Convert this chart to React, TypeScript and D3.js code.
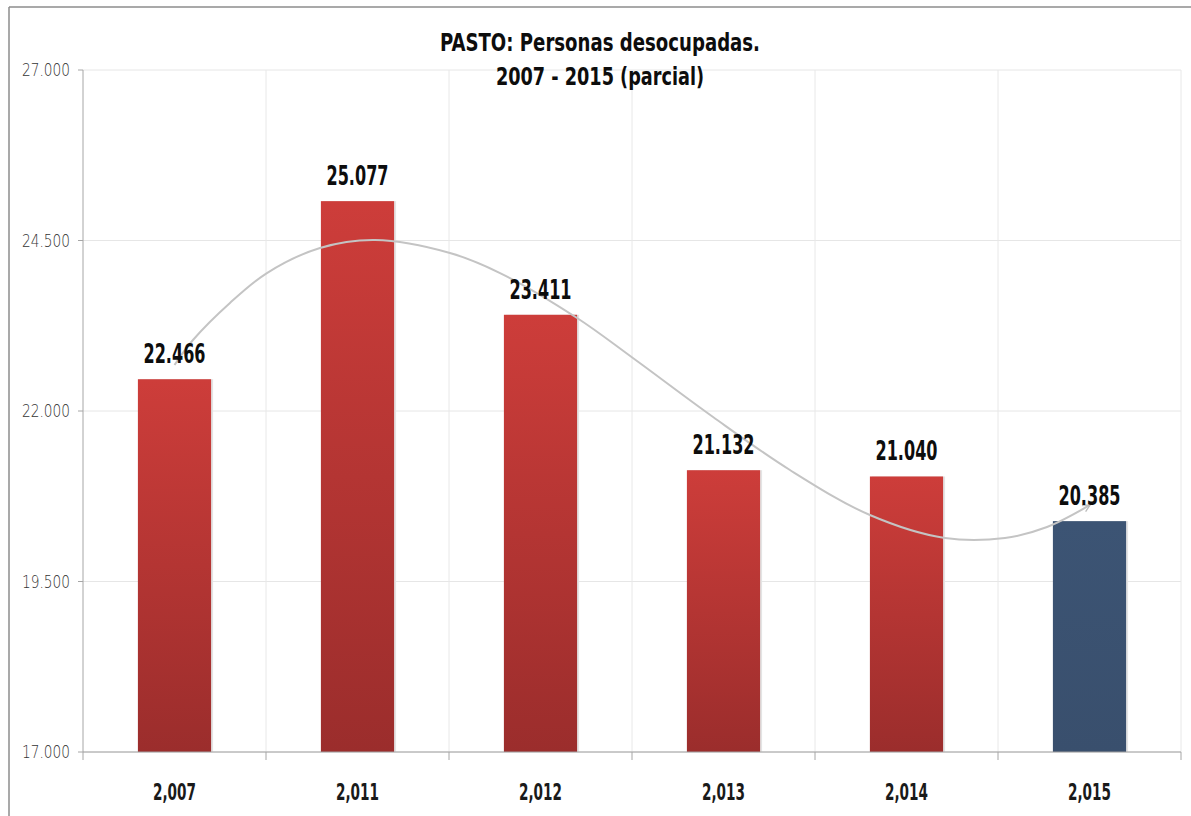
import React from "react";
import * as d3 from "d3";

const categories = ["2,007", "2,011", "2,012", "2,013", "2,014", "2,015"];
const values = [22466, 25077, 23411, 21132, 21040, 20385];
const barKinds = ["red", "red", "red", "red", "red", "blue"];
const yTicks = [17000, 19500, 22000, 24500, 27000];
const titleLines = ["PASTO: Personas desocupadas.", "2007 - 2015 (parcial)"];
// hand-drawn trend arrow, in (category position, value) units
const trendX = [0.0, 0.101, 0.303, 0.505, 0.795, 1.096, 1.505, 1.779, 2.2, 2.505, 2.943, 3.363, 3.8, 4.21, 4.538, 4.768, 5.003];
const trendY = [22675, 23041, 23584, 24023, 24390, 24507, 24317, 24023, 23364, 22777, 21912, 21135, 20475, 20138, 20138, 20299, 20622];

const W = 1191;
const H = 816;
const M = { left: 83, right: 1181, top: 70, bottom: 752 };

const locale = d3.formatLocale({ decimal: ",", thousands: ".", grouping: [3], currency: ["$", ""] });
const fmt = locale.format(",.0f");
const fmtTick = (v: number) => locale.format(",.3f")(v / 1000).replace(",", ".");

export default function App() {
  const x = d3.scaleBand<string>().domain(categories).range([M.left, M.right]).paddingInner(0).paddingOuter(0);
  const y = d3.scaleLinear().domain([17000, 27000]).range([M.bottom, M.top]);
  const bw = x.bandwidth();
  const barW = bw * 0.4;
  const pos = (i: number) => M.left + bw * (i + 0.5);
  const line = d3
    .line<number>()
    .x((_, i) => pos(trendX[i]))
    .y((d) => y(d))
    .curve(d3.curveCatmullRom.alpha(0.5));
  const font = "'DejaVu Sans Condensed', 'DejaVu Sans', sans-serif";

  return (
    <svg width={W} height={H} style={{ position: "absolute", left: 0, top: 0, background: "#fff" }}>
      <defs>
        <linearGradient id="redGrad" x1="0" y1="0" x2="0" y2="1">
          <stop offset="0" stopColor="#cd3d3a" />
          <stop offset="1" stopColor="#9b2d2c" />
        </linearGradient>
        <linearGradient id="blueGrad" x1="0" y1="0" x2="0" y2="1">
          <stop offset="0" stopColor="#3c5474" />
          <stop offset="1" stopColor="#394f6d" />
        </linearGradient>
        <marker id="arrow" viewBox="0 0 10 10" refX="9" refY="5" markerWidth="9" markerHeight="9" orient="auto" markerUnits="userSpaceOnUse">
          <path d="M1,1 L9,5 L1,9" fill="none" stroke="#bdbdbd" strokeWidth={1.5} />
        </marker>
      </defs>
      {/* outer border */}
      <line x1={9} y1={7} x2={1191} y2={7} stroke="#8c8c8c" strokeWidth={1.5} />
      <line x1={9} y1={7} x2={9} y2={816} stroke="#8c8c8c" strokeWidth={1.5} />

      {/* grid */}
      {yTicks.map((t) => (
        <line key={"gy" + t} x1={M.left} x2={M.right} y1={y(t)} y2={y(t)} stroke="#e6e6e6" strokeWidth={1} />
      ))}
      {categories.map((c) => (
        <line key={"gx" + c} x1={(x(c) as number) + bw} x2={(x(c) as number) + bw} y1={M.top} y2={M.bottom} stroke="#e8e8e8" strokeWidth={1} />
      ))}

      {/* bars */}
      {categories.map((c, i) => {
        const cx = (x(c) as number) + bw / 2;
        const top = y(values[i]);
        return (
          <g key={"b" + c}>
            <rect x={cx - barW / 2 + 2} y={top} width={barW} height={M.bottom - top} fill="#e4e4e4" />
            <rect x={cx - barW / 2} y={top} width={barW} height={M.bottom - top} fill={barKinds[i] === "red" ? "url(#redGrad)" : "url(#blueGrad)"} />
          </g>
        );
      })}

      {/* axes */}
      <line x1={M.left} x2={M.left} y1={M.top} y2={M.bottom + 8} stroke="#a6a6a6" strokeWidth={1} />
      <line x1={M.left} x2={M.right} y1={M.bottom} y2={M.bottom} stroke="#a0a0a0" strokeWidth={1} />
      {yTicks.map((t) => (
        <g key={"ty" + t}>
          <line x1={M.left - 5} x2={M.left} y1={y(t)} y2={y(t)} stroke="#a6a6a6" />
          <text x={70} y={y(t) + 6} textAnchor="end" fontFamily="'DejaVu Sans', sans-serif" fontSize={18} fill="#333" fontWeight={200} textLength={48} lengthAdjust="spacingAndGlyphs">
            {fmtTick(t)}
          </text>
        </g>
      ))}
      {categories.map((c) => (
        <line key={"tx" + c} x1={(x(c) as number) + bw} x2={(x(c) as number) + bw} y1={M.bottom} y2={M.bottom + 8} stroke="#a6a6a6" />
      ))}
      {categories.map((c) => (
        <text key={"lx" + c} x={(x(c) as number) + bw / 2} y={800} textAnchor="middle" fontFamily={font} fontSize={23} fontWeight={700} fill="#1a1a1a" textLength={43} lengthAdjust="spacingAndGlyphs">
          {c}
        </text>
      ))}

      {/* trend arrow */}
      <path d={line(trendY) || ""} fill="none" stroke="#c4c4c4" strokeWidth={2} markerEnd="url(#arrow)" />

      {/* value labels */}
      {categories.map((c, i) => (
        <text key={"v" + c} x={(x(c) as number) + bw / 2} y={y(values[i]) - 16} textAnchor="middle" fontFamily={font} fontSize={26} fontWeight={700} fill="#0d0d0d" textLength={62} lengthAdjust="spacingAndGlyphs">
          {fmt(values[i])}
        </text>
      ))}

      {/* title */}
      {titleLines.map((t, i) => (
        <text key={"t" + i} x={600} y={51 + i * 34} textAnchor="middle" fontFamily={font} fontSize={24} fontWeight={700} fill="#0d0d0d" textLength={i === 0 ? 320 : 208} lengthAdjust="spacingAndGlyphs">
          {t}
        </text>
      ))}
    </svg>
  );
}
